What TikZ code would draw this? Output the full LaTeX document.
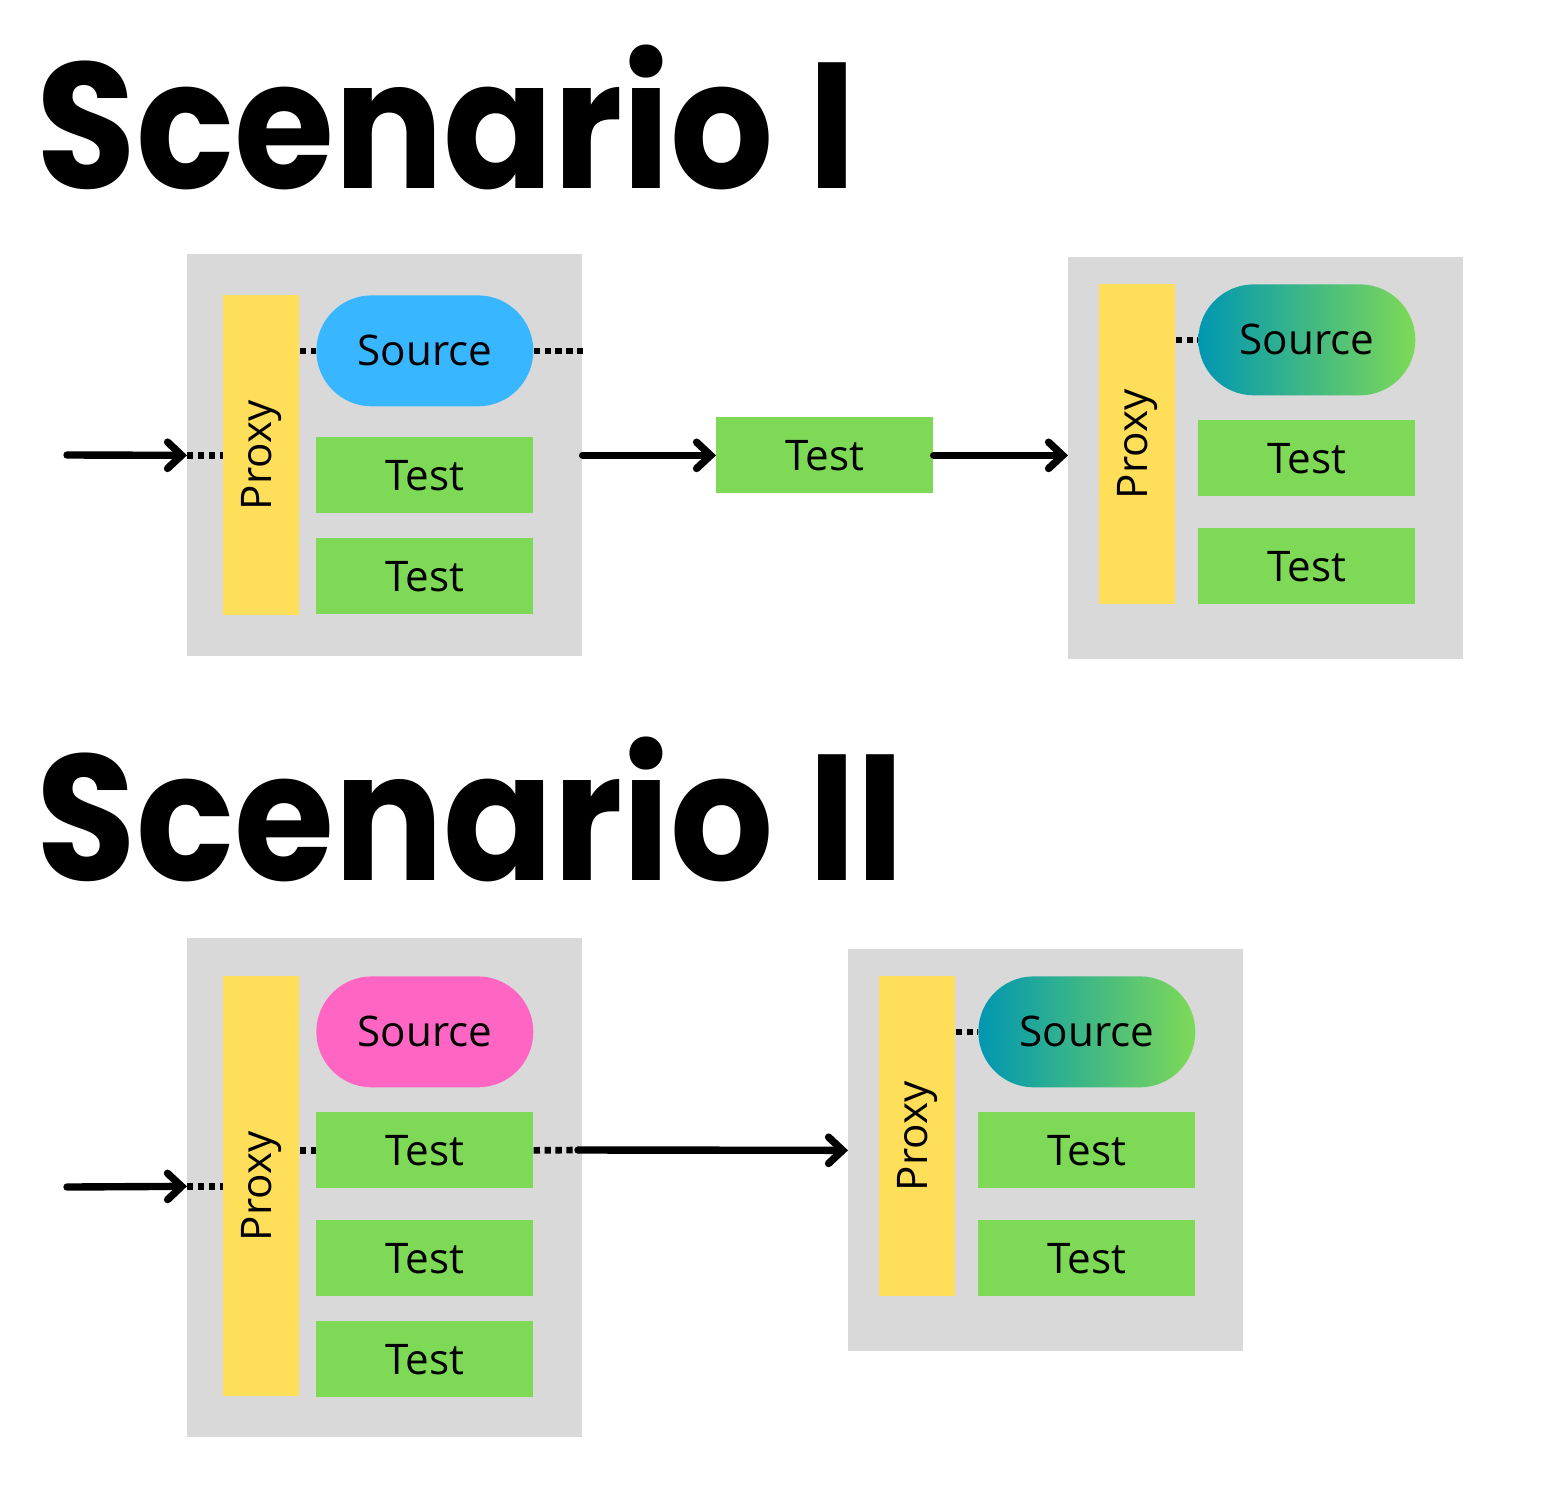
\documentclass[tikz,border=0pt]{standalone}
\usepackage{fontspec}
\setmainfont{Open Sans}
\newfontfamily\titlefont{Poppins}
\usetikzlibrary{arrows.meta,positioning}
\tikzset{>={Straight Barb[length=8pt,width=15pt,line cap=round]}}
\definecolor{panelgray}{HTML}{D9D9D9}
\definecolor{proxyyellow}{HTML}{FFDE59}
\definecolor{testgreen}{HTML}{7ED957}
\definecolor{srcblue}{HTML}{38B6FF}
\definecolor{srcpink}{HTML}{FF66C4}
\definecolor{srcteal}{HTML}{0097B2}
\newcommand{\scentitle}[1]{\scalebox{0.905}[1]{#1}}
\tikzset{
  panel/.style={fill=panelgray, anchor=north west, inner sep=0, minimum width=7.9cm},
  proxy/.style={fill=proxyyellow, anchor=north west, inner sep=0, minimum width=1.52cm, font=\fontsize{24}{24}\selectfont},
  source/.style={anchor=north west, inner sep=0, minimum width=4.34cm, minimum height=2.22cm,
                 rounded corners=1.11cm, font=\fontsize{24}{24}\selectfont},
  testbox/.style={fill=testgreen, anchor=north west, inner sep=0, minimum width=4.34cm,
                  minimum height=1.52cm, font=\fontsize{24}{24}\selectfont},
  mixed/.style={left color=srcteal, right color=testgreen},
  title/.style={anchor=base west, inner sep=0, font=\titlefont\bfseries\fontsize{102}{102}\selectfont},
  flow/.style={line width=4.2pt, line cap=round},
  dots/.style={line width=3.8pt, dash pattern=on 3.6pt off 2.6pt}
}

\begin{document}
\begin{tikzpicture}[x=0.02cm,y=-0.02cm]
  \useasboundingbox (0,0) rectangle (1547,1509);

  % Scenario I
  \node[title] (titleA) at (36,188) {\scentitle{Scenario I}};
  \node[panel, minimum height=8.04cm] (boxA) at (187,254) {};
  \node[proxy, minimum height=6.4cm] (proxyA) at (223,295) {\rotatebox{90}{Proxy}};
  \node[source, fill=srcblue] (srcA) at (316,295) {Source};
  \node[testbox] (testA1) at (316,437) {Test};
  \node[testbox] (testA2) at (316,538) {Test};
  \node[testbox] (testM) at (716,417) {Test};
  \node[panel, minimum height=8.04cm] (boxB) at (1068,257) {};
  \node[proxy, minimum height=6.4cm] (proxyB) at (1099,284) {\rotatebox{90}{Proxy}};
  \node[source, mixed] (srcB) at (1198,284) {Source};
  \node[testbox] (testB1) at (1198,420) {Test};
  \node[testbox] (testB2) at (1198,528) {Test};
  \coordinate (inA) at (67,455);

  \draw[flow,->] (inA) -- (proxyA.west -| boxA.west);
  \draw[dots] (proxyA.west -| boxA.west) -- (proxyA.west);
  \draw[dots] (proxyA.east |- srcA.west) -- (srcA.west);
  \draw[dots] (srcA.east) -- (srcA.east -| boxA.east);
  \draw[flow,->] (testM.west -| boxA.east) -- (testM.west);
  \draw[flow,->] (testM.east) -- (testM.east -| boxB.west);
  \draw[dots] (proxyB.east |- srcB.west) -- (srcB.west);

  % Scenario II
  \node[title] (titleB) at (36,880) {\scentitle{Scenario II}};
  \node[panel, minimum height=9.98cm] (boxC) at (187,938) {};
  \node[proxy, minimum height=8.4cm] (proxyC) at (223,976) {\rotatebox{90}{Proxy}};
  \node[source, fill=srcpink] (srcC) at (316,976) {Source};
  \node[testbox] (testC1) at (316,1112) {Test};
  \node[testbox] (testC2) at (316,1220) {Test};
  \node[testbox] (testC3) at (316,1321) {Test};
  \node[panel, minimum height=8.04cm] (boxD) at (848,949) {};
  \node[proxy, minimum height=6.4cm] (proxyD) at (879,976) {\rotatebox{90}{Proxy}};
  \node[source, mixed] (srcD) at (978,976) {Source};
  \node[testbox] (testD1) at (978,1112) {Test};
  \node[testbox] (testD2) at (978,1220) {Test};
  \coordinate (inC) at (67,1187);
  \coordinate (outC) at (578,1150);

  \draw[flow,->] (inC) -- (proxyC.west -| boxC.west);
  \draw[dots] (proxyC.west -| boxC.west) -- (proxyC.west);
  \draw[dots] (proxyC.east |- testC1.west) -- (testC1.west);
  \draw[dots] (testC1.east) -- (outC);
  \draw[flow,->] (outC) -- (boxD.west);
  \draw[dots] (proxyD.east |- srcD.west) -- (srcD.west);
\end{tikzpicture}
\end{document}
